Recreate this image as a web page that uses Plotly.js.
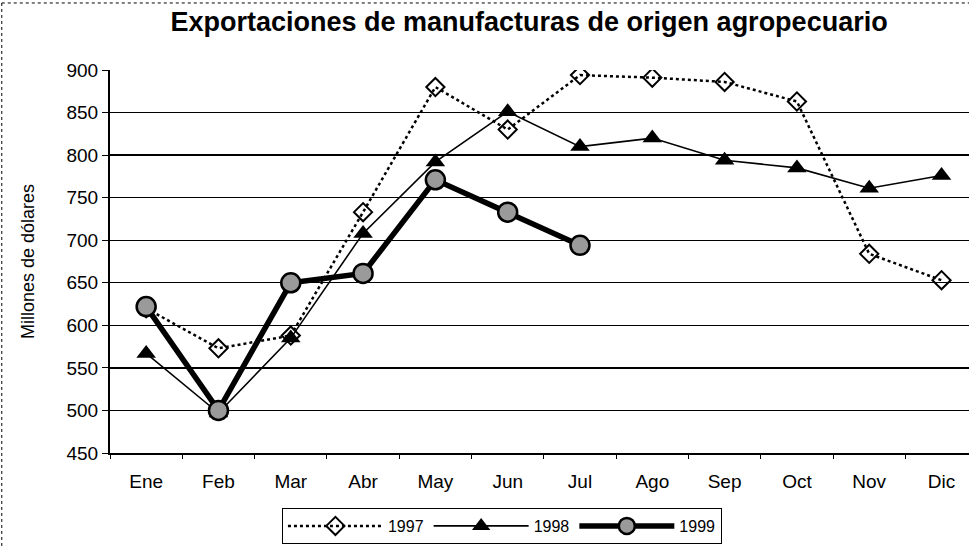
<!DOCTYPE html>
<html>
<head>
<meta charset="utf-8">
<script src="https://cdn.plot.ly/plotly-3.0.1.min.js"></script>
<style>html,body{margin:0;padding:0;background:#fff;}#chart{width:969px;height:548px;}</style>
</head>
<body>
<div id="chart"></div>
<script>
var months = ["Ene","Feb","Mar","Abr","May","Jun","Jul","Ago","Sep","Oct","Nov","Dic"];
var y1997 = [620, 573, 588, 733, 880, 830, 894, 891, 886, 863, 684, 653];
var y1998 = [567, 497, 585, 708, 792, 851, 810, 820, 794, 785, 761, 776];
var months1999 = ["Ene","Feb","Mar","Abr","May","Jun","Jul"];
var y1999 = [622, 500, 650, 661, 771, 733, 694];
var yTicks = [450, 500, 550, 600, 650, 700, 750, 800, 850, 900];

var traces = [
  {x: months, y: y1997, name: "1997", type: "scatter", mode: "lines+markers",
   line: {color: "#000", width: 2.5, dash: "dot"},
   marker: {symbol: "diamond-open", size: 14, color: "#000", line: {width: 2, color: "#000"}}},
  {x: months, y: y1998, name: "1998", type: "scatter", mode: "lines+markers",
   line: {color: "#000", width: 1.6},
   marker: {symbol: "triangle-up", size: 17, color: "#000"}},
  {x: months1999, y: y1999, name: "1999", type: "scatter", mode: "lines+markers",
   line: {color: "#000", width: 5.5},
   marker: {symbol: "circle", size: 19, color: "#9a9a9a", line: {width: 2.5, color: "#000"}}}
];

var layout = {
  width: 969, height: 548,
  margin: {l: 110, r: 0, t: 70, b: 95},
  paper_bgcolor: "#fff", plot_bgcolor: "#fff",
  font: {family: "Liberation Sans, Arial, sans-serif", color: "#000", size: 18},
  title: {text: "<b>Exportaciones de manufacturas de origen agropecuario</b>",
          font: {size: 27, family: "Liberation Sans, Arial, sans-serif"},
          x: 0.546, xanchor: "center", y: 0.96, yanchor: "middle"},
  xaxis: {type: "category", categoryorder: "array", categoryarray: months,
          range: [-0.5, 11.38], showgrid: false, zeroline: false,
          showline: true, linecolor: "#000", linewidth: 2,
          ticks: "outside", tickson: "boundaries", ticklen: 4, tickcolor: "#000", tickwidth: 1,
          ticklabelstandoff: 10, automargin: false,
          tickfont: {size: 19}, fixedrange: true},
  yaxis: {range: [450, 900], tickvals: yTicks, ticktext: yTicks.map(String),
          showgrid: true, gridcolor: "#000", gridwidth: 1.3, zeroline: false,
          showline: true, linecolor: "#000", linewidth: 2,
          ticks: "outside", ticklen: 6, tickcolor: "#000", tickwidth: 1,
          tickfont: {size: 19}, automargin: false,
          title: {text: "Millones de dólares", font: {size: 18}, standoff: 27}},
  showlegend: true,
  legend: {orientation: "h", xref: "container", yref: "container",
           x: 0.518, xanchor: "center", y: 0.073, yanchor: "top",
           bordercolor: "#000", borderwidth: 1, bgcolor: "#fff",
           font: {size: 16}, itemwidth: 95, tracegroupgap: 0},
  shapes: [
    {type: "line", xref: "paper", yref: "paper", x0: -0.126, x1: 1.0, y0: 1.175, y1: 1.175,
     line: {color: "#000", width: 1, dash: "dot"}},
    {type: "line", xref: "paper", yref: "paper", x0: -0.126, x1: -0.126, y0: 1.175, y1: -0.26,
     line: {color: "#000", width: 1, dash: "dot"}}
  ]
};

Plotly.newPlot("chart", traces, layout, {displayModeBar: false, staticPlot: true});
</script>
</body>
</html>
